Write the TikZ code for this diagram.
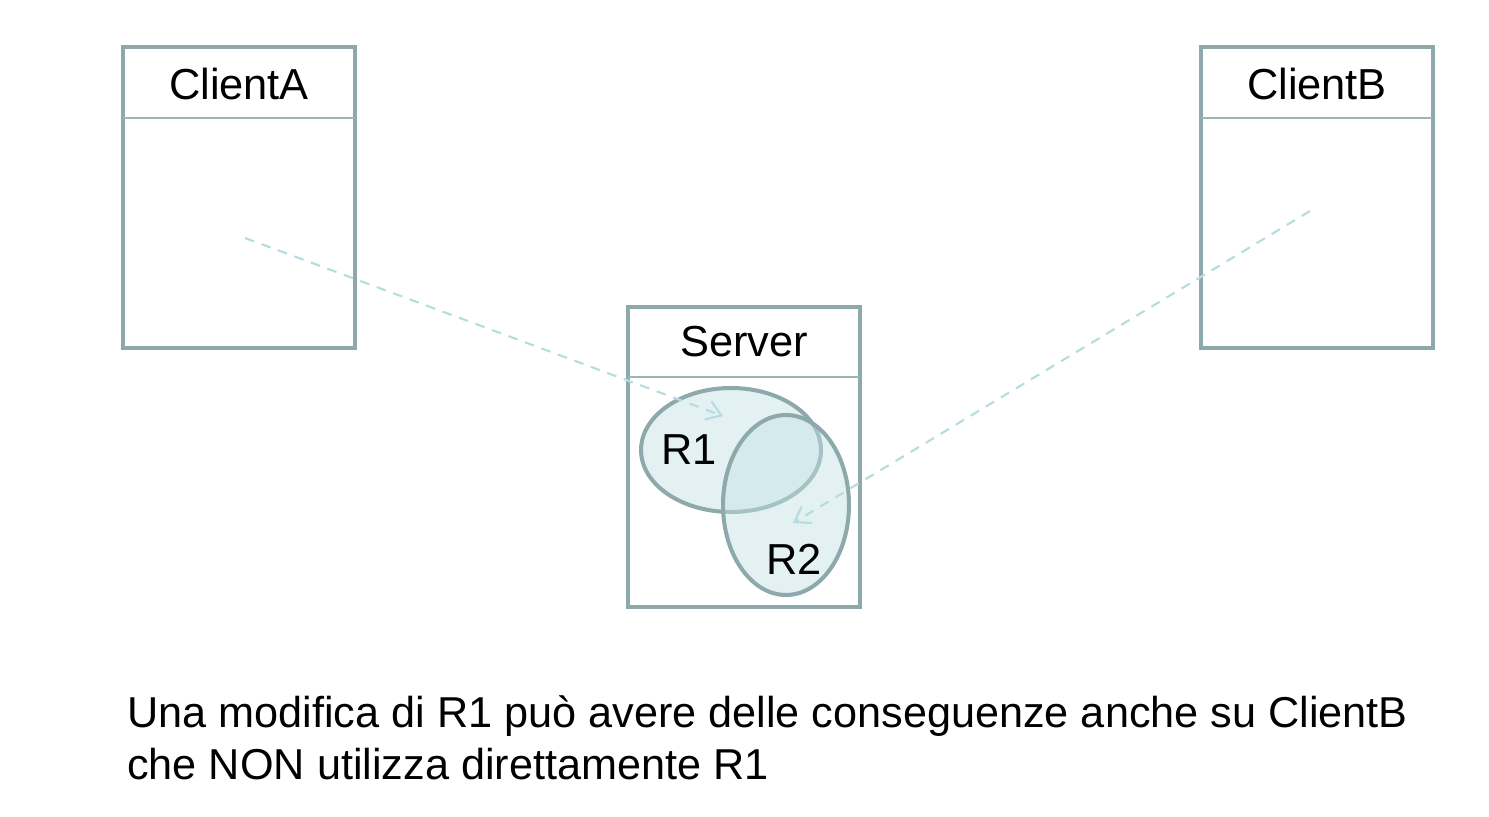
\documentclass[tikz,border=0pt]{standalone}
\usepackage{fontspec}
\setmainfont{Liberation Sans}
\usetikzlibrary{shapes.geometric}
\usetikzlibrary{arrows.meta}
\definecolor{boxgray}{HTML}{8EA9AB}
\definecolor{hdrgray}{HTML}{9DB5B6}
\definecolor{dashblue}{HTML}{B5DCE0}
\definecolor{resfill}{HTML}{C2E1E5}
\begin{document}
\begin{tikzpicture}[x=0.02cm,y=-0.02cm,
  classbox/.style={draw=boxgray,line width=2.3pt,minimum width=4.64cm,minimum height=6.02cm,inner sep=0pt},
  hdr/.style={draw=hdrgray,line width=0.9pt},
  lbl/.style={font=\fontsize{24.7}{28}\selectfont,anchor=base,inner sep=0pt},
  res/.style={ellipse,draw=boxgray,line width=2.3pt,fill=resfill,fill opacity=0.46,draw opacity=1,inner sep=0pt},
  link/.style={draw=dashblue,line width=1.2pt,dash pattern=on 5.5pt off 4.5pt,-{Straight Barb[length=8pt,width=11pt]}}]

\useasboundingbox (0,0) rectangle (1489,817);

%ClientA
\node[classbox] (clientA) at (239,197.5) {};
\draw[hdr] (123,118) -- (355,118);
\node[lbl] (clientAname) at (239,100) {ClientA};

%ClientB
\node[classbox] (clientB) at (1317,197.5) {};
\draw[hdr] (1201,118) -- (1433,118);
\node[lbl] (clientBname) at (1317,100) {ClientB};

%Server
\node[classbox] (server) at (744,457) {};
\draw[hdr] (628,377) -- (860,377);
\node[lbl] (servername) at (744,357) {Server};

%R1 e R2
\node[res,minimum width=3.6cm,minimum height=2.48cm] (R1) at (731,450) {};
\node[res,minimum width=2.52cm,minimum height=3.6cm] (R2) at (786,505) {};
\node[lbl,anchor=base west] (R1name) at (661,465) {R1};
\node[lbl,anchor=base west] (R2name) at (766,575) {R2};

%dipendenze
\coordinate (useA) at (245,238);
\coordinate (useB) at (1310,211);
\coordinate (inR1) at (723,416);
\coordinate (inR2) at (793,523);
\draw[link] (useA) -- (inR1);
\draw[link] (useB) -- (inR2);

\node[font=\fontsize{24.6}{29.5}\selectfont,anchor=north west,align=left,inner sep=0pt] (nota) at (127,695)
  {Una modifica di R1 può avere delle conseguenze anche su ClientB\\che NON utilizza direttamente R1};

\end{tikzpicture}
\end{document}
